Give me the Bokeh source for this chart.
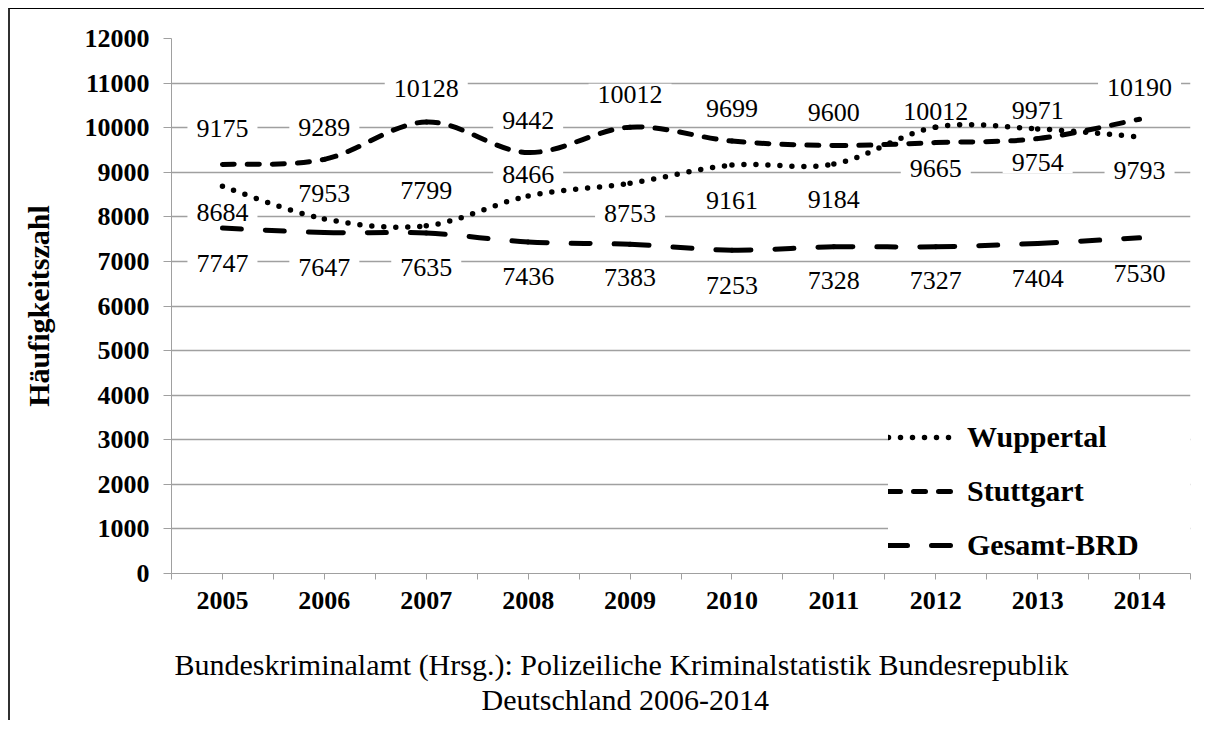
from bokeh.plotting import figure
from bokeh.models import (Range1d, FixedTicker, ColumnDataSource, Legend, LegendItem, Title, LinearAxis)
from bokeh.core.properties import value
from bokeh.embed import file_html
from bokeh.resources import INLINE

# ---------------- data ----------------
YEARS = ["2005", "2006", "2007", "2008", "2009", "2010", "2011", "2012", "2013", "2014"]
WUPPERTAL = [8684, 7953, 7799, 8466, 8753, 9161, 9184, 10012, 9971, 9793]
STUTTGART = [9175, 9289, 10128, 9442, 10012, 9699, 9600, 9665, 9754, 10190]
GESAMT_BRD = [7747, 7647, 7635, 7436, 7383, 7253, 7328, 7327, 7404, 7530]
SERIES_NAMES = ["Wuppertal", "Stuttgart", "Gesamt-BRD"]
Y_TICKS = [0, 1000, 2000, 3000, 4000, 5000, 6000, 7000, 8000, 9000, 10000, 11000, 12000]
Y_TITLE = "Häufigkeitszahl"
CAPTION = ["Bundeskriminalamt (Hrsg.): Polizeiliche Kriminalstatistik Bundesrepublik",
           "Deutschland 2006-2014"]

# label placement (screen px, positive = below the point)
WUP_LABEL_OFF = [26, -25, -35, -22, 30, 35, 35, -16, -18, 34]
STU_LABEL_OFF = [-36, -32, -33, -32, -33, -33, -33, 26, 24, -32]
BRD_LABEL_OFF = [35, 35, 34, 35, 33, 35, 34, 34, 35, 36]
CAPTION_OFFSET = [3, 310]   # px from the plot's left edge

SERIF = "Liberation Serif"
GRID = "#a0a0a0"

n = len(YEARS)
xc = [i + 0.5 for i in range(n)]

p = figure(width=1196, height=712, output_backend="svg", toolbar_location=None,
           x_range=Range1d(0, n), y_range=Range1d(Y_TICKS[0], Y_TICKS[-1]),
           min_border_left=161, min_border_right=16, min_border_top=29, min_border_bottom=148)
p.styles = {"margin-left": "8px", "margin-top": "8px",
            "border-left": "2px solid #303030", "border-top": "1px solid #000000"}
p.outline_line_color = None
p.background_fill_color = "white"
p.border_fill_color = "white"

# axes
xax = p.below[0]
xax.ticker = FixedTicker(ticks=xc, minor_ticks=list(range(n + 1)))
xax.major_label_overrides = {x: y for x, y in zip(xc, YEARS)}
xax.axis_line_color = GRID
xax.major_tick_line_color = GRID
xax.minor_tick_line_color = GRID
xax.major_tick_out = 6
xax.major_tick_in = 0
xax.minor_tick_out = 6
xax.minor_tick_in = 0
xax.major_label_standoff = 12
xax.major_label_text_font = SERIF
xax.major_label_text_font_style = "bold"
xax.major_label_text_font_size = "26px"
xax.major_label_text_color = "black"

# blank spacer axis (white tick on white) to push the caption down
spacer = LinearAxis(ticker=FixedTicker(ticks=[0], minor_ticks=[]), major_tick_out=34, major_tick_in=0,
                    minor_tick_out=0, minor_tick_in=0, axis_line_color=None,
                    major_tick_line_color="white", minor_tick_line_color=None,
                    major_label_standoff=0, major_label_overrides={0: ""},
                    major_label_text_font_size="0px")
p.add_layout(spacer, "below")

p.yaxis.ticker = FixedTicker(ticks=Y_TICKS, minor_ticks=[])
p.yaxis.axis_line_color = GRID
p.yaxis.major_tick_line_color = GRID
p.yaxis.major_tick_out = 8
p.yaxis.major_tick_in = 0
p.yaxis.minor_tick_line_color = None
p.yaxis.major_label_standoff = 14
p.yaxis.major_label_text_font = SERIF
p.yaxis.major_label_text_font_style = "bold"
p.yaxis.major_label_text_font_size = "26px"
p.yaxis.major_label_text_color = "black"
p.yaxis.axis_label = Y_TITLE
p.yaxis.axis_label_text_font = SERIF
p.yaxis.axis_label_text_font_style = "bold"
p.yaxis.axis_label_text_font_size = "30px"
p.yaxis.axis_label_text_color = "black"
p.yaxis.axis_label_standoff = 27

p.xgrid.grid_line_color = None
p.ygrid.ticker = FixedTicker(ticks=Y_TICKS)
p.ygrid.grid_line_color = GRID
p.ygrid.grid_line_width = 1.3

# data labels (drawn first so lines stay on top)
for vals, offs in [(WUPPERTAL, WUP_LABEL_OFF), (STUTTGART, STU_LABEL_OFF), (GESAMT_BRD, BRD_LABEL_OFF)]:
    src = ColumnDataSource(dict(x=xc, y=vals, text=[str(v) for v in vals], yoff=offs))
    p.text(x="x", y="y", text="text", y_offset="yoff", source=src,
           text_font=value(SERIF), text_font_size="26px", text_color="black",
           text_align="center", text_baseline="middle",
           background_fill_color="white",
           padding=dict(left=9, right=9, top=2, bottom=2))


def bezier_source(vals):
    d = dict(x0=[], y0=[], x1=[], y1=[], cx0=[], cy0=[], cx1=[], cy1=[])
    for i in range(n - 1):
        a = max(i - 1, 0)
        b = min(i + 2, n - 1)
        d["x0"].append(xc[i]); d["y0"].append(vals[i])
        d["x1"].append(xc[i + 1]); d["y1"].append(vals[i + 1])
        d["cx0"].append(xc[i] + (xc[i + 1] - xc[a]) / 6)
        d["cy0"].append(vals[i] + (vals[i + 1] - vals[a]) / 6)
        d["cx1"].append(xc[i + 1] - (xc[b] - xc[i]) / 6)
        d["cy1"].append(vals[i + 1] - (vals[b] - vals[i]) / 6)
    return ColumnDataSource(d)


styles = {
    "Wuppertal": dict(line_dash="0 12", line_width=5.5),
    "Stuttgart": dict(line_dash="12 13", line_width=5),
    "Gesamt-BRD": dict(line_dash="19 24", line_width=5),
}

items = []
for name, vals in zip(SERIES_NAMES, [WUPPERTAL, STUTTGART, GESAMT_BRD]):
    st = styles[name]
    p.bezier(x0="x0", y0="y0", x1="x1", y1="y1", cx0="cx0", cy0="cy0", cx1="cx1", cy1="cy1",
             source=bezier_source(vals), line_color="black", line_cap="round", **st)
    r = p.line(x=[xc[0]], y=[float("nan")], line_color="black", line_cap="round", **st)
    items.append(LegendItem(label=name, renderers=[r]))

legend = Legend(items=items, location=(717, 11), orientation="vertical",
                glyph_width=65, glyph_height=28, label_height=28, label_width=225,
                label_standoff=14, spacing=20, padding=20, margin=0,
                label_text_font=SERIF, label_text_font_style="bold",
                label_text_font_size="30px", label_text_color="black",
                background_fill_color="white", background_fill_alpha=1.0,
                border_line_color=None)
legend.level = "glyph"
p.add_layout(legend, "center")

# caption (two lines below the chart)
for line, off in zip(CAPTION, CAPTION_OFFSET):
    p.add_layout(Title(text=line, align="left", offset=off, standoff=0,
                       text_font=SERIF, text_font_size="30px", text_font_style="normal",
                       text_line_height=1.0, text_color="black"), "below")

open("out.html", "w").write(file_html(p, INLINE))
